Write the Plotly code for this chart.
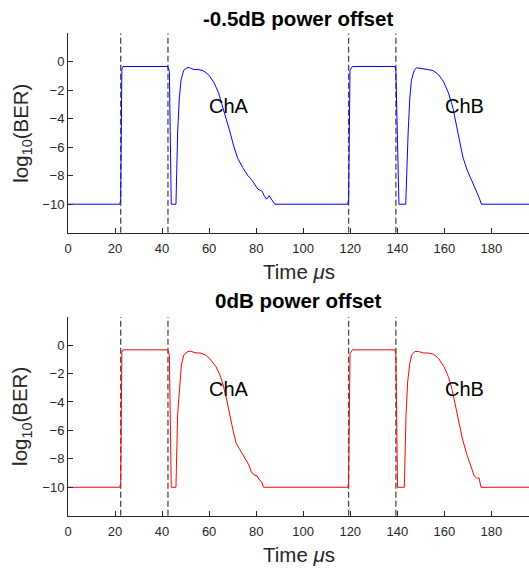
import plotly.graph_objects as go

# ---------------- data ----------------
t_top = [0, 22.0, 22.4, 22.9, 23.4, 42.3, 42.8, 43.1, 43.9, 45.9, 46.6, 47.3, 48.1, 49.2,
         50.6, 51.5, 52.1, 53.5, 55.7, 57.8, 60.0, 62.1, 64.0, 65.7, 67.4, 69.0, 70.4,
         72.2, 74.3, 76.5, 77.9, 79.3, 80.8, 82.0, 82.6, 83.2, 84.4, 85.5, 86.5, 87.9,
         118.9, 119.3, 119.9, 120.9, 139.0, 139.4, 140.7, 143.6, 144.6, 145.3, 146.0,
         147.2, 148.2, 149.6, 151.1, 153.2, 155.4, 157.5, 159.7, 161.8, 163.6, 165.0,
         166.4, 167.9, 169.7, 171.9, 173.3, 174.7, 175.8, 196.0]
ber_top = [-10, -10, -9.7, -0.5, -0.33, -0.33, -0.5, -0.7, -10, -10, -5.0, -2.6, -1.25, -0.6,
           -0.42, -0.4, -0.45, -0.54, -0.55, -0.65, -0.96, -1.47, -2.17, -3.1, -4.0, -5.0, -5.9,
           -6.8, -7.43, -8.0, -8.25, -8.6, -8.95, -9.05, -9.1, -9.35, -9.65, -9.4, -9.65, -10,
           -10, -9.7, -0.6, -0.33, -0.33, -0.6, -10, -10, -5.0, -2.6, -1.3,
           -0.6, -0.42, -0.45, -0.52, -0.55, -0.63, -0.9, -1.4, -2.2, -3.2, -4.3,
           -5.5, -6.7, -7.6, -8.4, -9.0, -9.5, -10, -10]

t_bot = [0, 22.0, 22.4, 22.9, 23.4, 42.3, 42.8, 43.1, 43.9, 45.9, 46.6, 47.4, 48.2, 49.2,
         50.7, 52.1, 54.0, 56.4, 58.6, 60.7, 62.9, 64.6, 66.0, 67.5, 68.9, 70.3, 71.5,
         73.2, 75.1, 76.9, 77.9, 79.0, 80.4, 81.3, 82.3, 83.1,
         118.9, 119.3, 119.9, 120.9, 139.0, 139.4, 140.1, 143.0, 143.7, 144.4, 145.3,
         146.1, 147.5, 149.0, 151.2, 153.3, 155.5, 157.6, 159.8, 161.9, 163.4, 164.8,
         166.2, 167.7, 169.4, 171.3, 172.7, 173.8, 174.8, 175.6, 196.0]
ber_bot = [-10, -10, -9.7, -0.5, -0.33, -0.33, -0.5, -0.75, -10, -10, -4.9, -2.8, -1.4, -0.7,
           -0.47, -0.42, -0.54, -0.56, -0.7, -1.05, -1.52, -2.1, -2.8, -3.86, -5.03, -6.1, -6.9,
           -7.4, -7.96, -8.43, -8.9, -9.13, -9.2, -9.48, -9.6, -10,
           -10, -9.7, -0.6, -0.33, -0.33, -0.6, -10, -10, -5.0, -2.6, -1.3,
           -0.7, -0.45, -0.45, -0.55, -0.56, -0.65, -0.95, -1.5, -2.3, -3.2, -4.3,
           -5.5, -6.6, -7.6, -8.6, -9.2, -9.35, -9.35, -10, -10]

marker_times = [22.4, 42.5, 119.3, 139.4]
titles = ["-0.5dB power offset", "0dB power offset"]
labels = ["ChA", "ChB"]
label_t = [68.6, 168.6]
label_y = [-3.1, -3.1]
x_ticks = [0, 20, 40, 60, 80, 100, 120, 140, 160, 180]
y_ticks = [-10, -8, -6, -4, -2, 0]
x_range = [0, 196]
y_range = [-12, 2]

# ---------------- figure ----------------
W, H = 529, 569
L = 68
FONT = "Liberation Sans, Arial, sans-serif"
INK = "#262626"

fig = go.Figure()

series = [(t_top, ber_top, "#0000ff"), (t_bot, ber_bot, "#ff0000")]
for i, (tx, by, col) in enumerate(series):
    xa = "x" if i == 0 else "x2"
    ya = "y" if i == 0 else "y2"
    vx, vy = [], []
    for m in marker_times:
        vx += [m, m, None]
        vy += [y_range[0], y_range[1], None]
    fig.add_trace(go.Scatter(x=vx, y=vy, mode="lines", xaxis=xa, yaxis=ya,
                             line=dict(color="#4a4a4a", width=1.3, dash="6px,3px"),
                             showlegend=False, hoverinfo="skip"))
    fig.add_trace(go.Scatter(x=tx, y=by, mode="lines", xaxis=xa, yaxis=ya,
                             line=dict(color=col, width=1.0), showlegend=False))
    for lab, lt, ly in zip(labels, label_t, label_y):
        fig.add_annotation(x=lt, y=ly, xref=xa, yref=ya, text=lab, showarrow=False,
                           font=dict(family=FONT, size=20, color="black"))

axis_common = dict(showline=True, linecolor=INK, linewidth=1, mirror=False,
                   ticks="inside", ticklen=5, tickcolor=INK, tickwidth=1,
                   showgrid=False, zeroline=False,
                   tickfont=dict(family=FONT, size=13, color=INK))

dom_top = [(H - 232.7) / H, (H - 33.3) / H]
dom_bot = [(H - 515.7) / H, (H - 316.7) / H]

fig.update_layout(
    width=W, height=H,
    margin=dict(l=L, r=0, t=0, b=0),
    paper_bgcolor="white", plot_bgcolor="white",
    xaxis=dict(domain=[0, 1], range=x_range, tickvals=x_ticks, anchor="y",
               ticklabelstandoff=4, **axis_common),
    yaxis=dict(domain=dom_top, range=y_range, tickvals=y_ticks, anchor="x",
               ticklabelstandoff=0, **axis_common),
    xaxis2=dict(domain=[0, 1], range=x_range, tickvals=x_ticks, anchor="y2",
                ticklabelstandoff=4, **axis_common),
    yaxis2=dict(domain=dom_bot, range=y_range, tickvals=y_ticks, anchor="x2",
                ticklabelstandoff=0, **axis_common),
)

PW = W - L
def px(xp):
    return (xp - L) / PW
def py(yp):
    return (H - yp) / H

title_y = [18.3, 300.0]
xlab_y = [271.7, 554.3]
ylab_y = [133.0, 416.2]
for i in range(2):
    fig.add_annotation(x=px(298), y=py(title_y[i]), xref="paper", yref="paper",
                       text="<b>%s</b>" % titles[i], showarrow=False,
                       xanchor="center", yanchor="middle",
                       font=dict(family=FONT, size=20.5, color="black"))
    fig.add_annotation(x=px(299), y=py(xlab_y[i]), xref="paper", yref="paper",
                       text="Time <i>\u03bc</i>s", showarrow=False,
                       xanchor="center", yanchor="middle",
                       font=dict(family=FONT, size=20.5, color=INK))
    fig.add_annotation(x=px(21.7), y=py(ylab_y[i]), xref="paper", yref="paper",
                       text="log<sub>10</sub>(BER)", showarrow=False, textangle=-90,
                       xanchor="center", yanchor="middle",
                       font=dict(family=FONT, size=20.5, color=INK))

fig.write_html("out.html", config={"displayModeBar": False},
               post_script="document.body.style.margin='0';document.body.style.padding='0';")
